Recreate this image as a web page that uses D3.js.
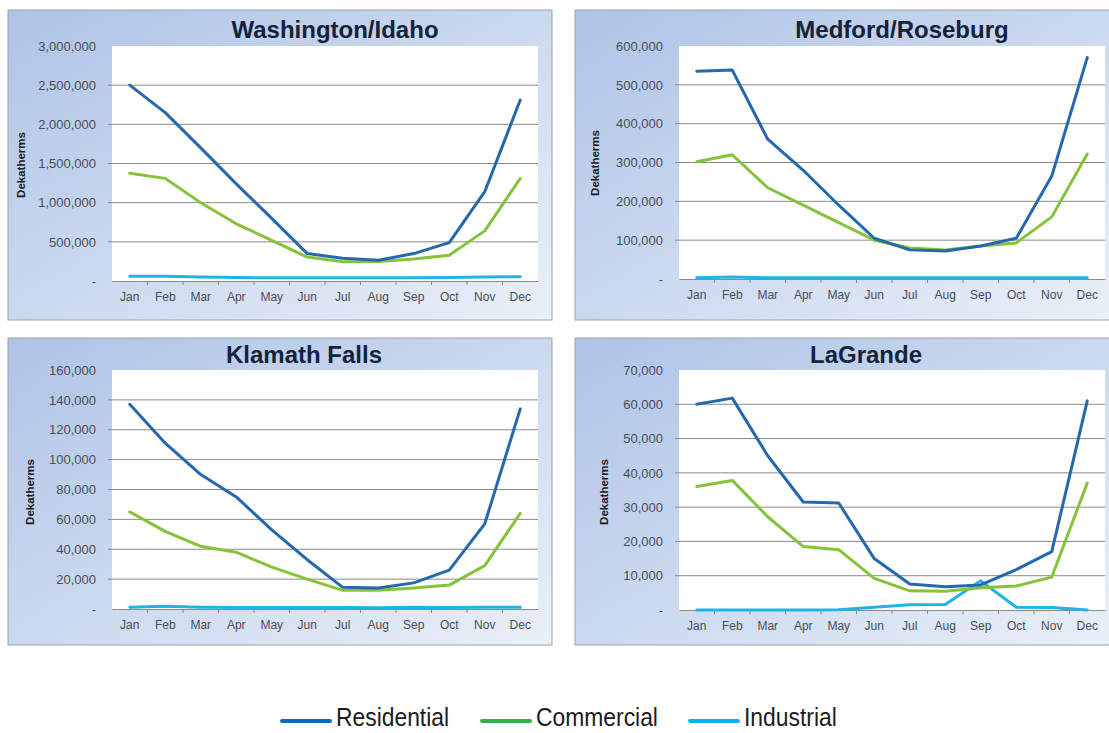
<!DOCTYPE html>
<html><head><meta charset="utf-8">
<script src="https://cdn.jsdelivr.net/npm/d3@7"></script>
<style>
html,body{margin:0;padding:0;background:#fff;}
svg{display:block;}
</style></head>
<body>
<svg id="chart" width="1109" height="733"></svg>
<script>
// ---------- DATA ----------
const months = ["Jan","Feb","Mar","Apr","May","Jun","Jul","Aug","Sep","Oct","Nov","Dec"];
const seriesNames = ["Residential","Commercial","Industrial"];
const regionNames = ["Washington/Idaho","Medford/Roseburg","Klamath Falls","LaGrande"];

const waResidential = [2500000,2150000,1700000,1240000,800000,350000,290000,265000,350000,490000,1140000,2310000];
const waCommercial  = [1375000,1310000,1000000,730000,520000,305000,245000,250000,280000,330000,640000,1310000];
const waIndustrial  = [60000,60000,50000,45000,40000,40000,40000,40000,40000,45000,50000,55000];

const mrResidential = [535000,538000,360000,280000,190000,105000,75000,72000,85000,105000,265000,570000];
const mrCommercial  = [302000,320000,235000,190000,145000,100000,80000,75000,85000,93000,160000,322000];
const mrIndustrial  = [3000,5000,3000,3000,3000,3000,3000,3000,3000,3000,3000,3000];

const kfResidential = [137000,111000,90000,75000,53000,33000,14500,14000,17500,26000,57000,134000];
const kfCommercial  = [65000,52000,42000,38000,28000,20000,12500,12500,14000,16000,29000,64000];
const kfIndustrial  = [1200,1800,1200,1000,1000,1000,1000,800,1200,1000,1200,1200];

const lgResidential = [60000,61800,45000,31500,31200,15000,7600,6800,7300,11800,17000,61000];
const lgCommercial  = [36000,37800,27200,18500,17600,9200,5600,5500,6500,7000,9600,37000];
const lgIndustrial  = [0,0,0,0,100,800,1500,1600,8500,800,700,0];

const waTicks = [0,500000,1000000,1500000,2000000,2500000,3000000];
const mrTicks = [0,100000,200000,300000,400000,500000,600000];
const kfTicks = [0,20000,40000,60000,80000,100000,120000,140000,160000];
const lgTicks = [0,10000,20000,30000,40000,50000,60000,70000];

const yAxisTitle = "Dekatherms";

// ---------- LAYOUT / STYLE ----------
const lineColors   = ["#2468ad","#86c23c","#22b2e6"];
const legendColors = ["#0b6fbe","#33b24b","#0eb0ee"];

const layout = [
  {frame:[8,10,552,320],   plot:[112,46,538,281],  titleX:335, titleY:38,  yTitleX:21,  yTitleY:165},
  {frame:[575,10,1112,320],plot:[679,46,1105,279], titleX:902, titleY:38,  yTitleX:595, yTitleY:163},
  {frame:[8,338,552,645],  plot:[112,370,538,609], titleX:304, titleY:363, yTitleX:30,  yTitleY:492},
  {frame:[575,338,1112,645],plot:[679,370,1105,610],titleX:866, titleY:363, yTitleX:604, yTitleY:492}
];

const panels = [
  {name:regionNames[0], series:[waResidential,waCommercial,waIndustrial], ticks:waTicks},
  {name:regionNames[1], series:[mrResidential,mrCommercial,mrIndustrial], ticks:mrTicks},
  {name:regionNames[2], series:[kfResidential,kfCommercial,kfIndustrial], ticks:kfTicks},
  {name:regionNames[3], series:[lgResidential,lgCommercial,lgIndustrial], ticks:lgTicks}
];

// ---------- DRAW ----------
const svg = d3.select("#chart");
const defs = svg.append("defs");
const grad = defs.append("linearGradient").attr("id","frameGrad")
  .attr("x1","0%").attr("y1","0%").attr("x2","100%").attr("y2","100%");
grad.append("stop").attr("offset","0%").attr("stop-color","#aec3e6");
grad.append("stop").attr("offset","45%").attr("stop-color","#c8d7ee");
grad.append("stop").attr("offset","100%").attr("stop-color","#eaf0f8");

const fmt = d3.format(",");
const labelFont = "'Liberation Sans',Arial,sans-serif";

panels.forEach((p,i)=>{
  const L = layout[i];
  const g = svg.append("g");
  const [fx0,fy0,fx1,fy1] = L.frame;
  g.append("rect").attr("x",fx0).attr("y",fy0).attr("width",fx1-fx0).attr("height",fy1-fy0)
    .attr("fill","url(#frameGrad)").attr("stroke","#9aa3ad").attr("stroke-width",1);

  const [px0,py0,px1,py1] = L.plot;
  g.append("rect").attr("x",px0).attr("y",py0).attr("width",px1-px0).attr("height",py1-py0)
    .attr("fill","#ffffff");

  const x = d3.scaleBand().domain(months).range([px0,px1]).padding(0);
  const y = d3.scaleLinear().domain([0,d3.max(p.ticks)]).range([py1,py0]);

  // gridlines
  g.append("g").selectAll("line").data(p.ticks.filter(t=>t>0 && t<d3.max(p.ticks)))
    .join("line")
    .attr("x1",px0-4).attr("x2",px1).attr("y1",d=>y(d)).attr("y2",d=>y(d))
    .attr("stroke","#8a8a8a").attr("stroke-width",1);

  // y axis labels
  const ya = g.append("g").attr("transform",`translate(${px0},0)`)
    .call(d3.axisLeft(y).tickValues(p.ticks).tickSize(0).tickPadding(16)
      .tickFormat(d=>d===0?"-":fmt(d)));
  ya.select(".domain").remove();
  ya.selectAll("text").attr("font-family",labelFont).attr("font-size",13)
    .attr("fill","#4a4d55");

  // x axis
  const xa = g.append("g").attr("transform",`translate(0,${py1})`)
    .call(d3.axisBottom(x).tickSize(0).tickPadding(11));
  xa.select(".domain").attr("stroke","#8a8a8a");
  xa.selectAll("text").attr("font-family",labelFont).attr("font-size",12)
    .attr("fill","#4a4d55");
  // boundary tick marks
  g.append("g").selectAll("line").data(months.slice(1))
    .join("line")
    .attr("x1",d=>x(d)).attr("x2",d=>x(d)).attr("y1",py1).attr("y2",py1+4)
    .attr("stroke","#8a8a8a");

  // lines (Industrial drawn first at bottom)
  const line = d3.line().x((d,j)=>x(months[j])+x.bandwidth()/2).y(d=>y(d));
  [2,1,0].forEach(s=>{
    g.append("path").datum(p.series[s]).attr("d",line)
      .attr("fill","none").attr("stroke",lineColors[s]).attr("stroke-width",3)
      .attr("stroke-linejoin","round").attr("stroke-linecap","round");
  });

  // title
  g.append("text").attr("x",L.titleX).attr("y",L.titleY).attr("text-anchor","middle")
    .attr("font-family","'Liberation Sans',Arial,sans-serif").attr("font-weight","bold")
    .attr("font-size",24).attr("fill","#15223a").text(p.name);

  // y-axis title
  g.append("text").attr("transform",`translate(${L.yTitleX},${L.yTitleY}) rotate(-90)`)
    .attr("text-anchor","middle").attr("dy","0.35em")
    .attr("font-family","'Liberation Sans',Arial,sans-serif").attr("font-weight","bold")
    .attr("font-size",11.5).attr("fill","#1a1a1a").text(yAxisTitle);
});

// ---------- LEGEND ----------
const legendPos = [282,482,690];
const lg = svg.append("g");
seriesNames.forEach((n,i)=>{
  const lx = legendPos[i];
  lg.append("line").attr("x1",lx).attr("x2",lx+48).attr("y1",721).attr("y2",721)
    .attr("stroke",legendColors[i]).attr("stroke-width",4).attr("stroke-linecap","round");
  lg.append("text").attr("transform",`translate(${lx+54},726) scale(0.88,1)`)
    .attr("font-family",labelFont).attr("font-size",26).attr("fill","#1c1c1c").text(n);
});
</script>
</body></html>
